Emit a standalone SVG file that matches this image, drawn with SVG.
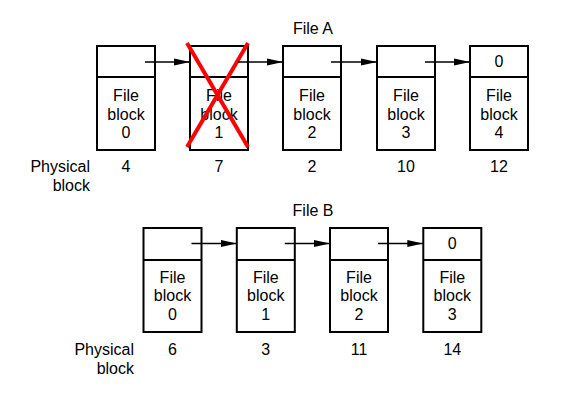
<svg xmlns="http://www.w3.org/2000/svg" width="566" height="402" viewBox="0 0 566 402">
<style>
.box{fill:#fff;stroke:#000;stroke-width:2}
.t{font-family:"Liberation Sans",Arial,sans-serif;font-size:16px;fill:#000;text-anchor:middle}
.r{text-anchor:end}
.c{stroke:#000;stroke-width:1.4;fill:none}
</style>
<defs>
<marker id="ah" markerUnits="userSpaceOnUse" markerWidth="16" markerHeight="8" refX="16" refY="4" orient="auto">
<path d="M0,0.5 L16,4 L0,7.5 Z" fill="#000"/>
</marker>
</defs>
<rect width="566" height="402" fill="#fff"/>
<text class="t" x="313" y="34">File A</text>
<text class="t r" x="90" y="172">Physical</text>
<text class="t r" x="90" y="191">block</text>
<g id="a0"><rect class="box" x="97" y="46" width="58" height="104"/><line class="box" x1="97" y1="77" x2="155" y2="77"/>
<text class="t" x="126" y="101">File</text><text class="t" x="126" y="119.5">block</text><text class="t" x="126" y="138">0</text><text class="t" x="126" y="172">4</text></g>
<g id="a1"><rect class="box" x="190" y="46" width="58" height="104"/><line class="box" x1="190" y1="77" x2="248" y2="77"/>
<text class="t" x="219" y="101">File</text><text class="t" x="219" y="119.5">block</text><text class="t" x="219" y="138">1</text><text class="t" x="219" y="172">7</text></g>
<g id="a2"><rect class="box" x="283" y="46" width="58" height="104"/><line class="box" x1="283" y1="77" x2="341" y2="77"/>
<text class="t" x="312" y="101">File</text><text class="t" x="312" y="119.5">block</text><text class="t" x="312" y="138">2</text><text class="t" x="312" y="172">2</text></g>
<g id="a3"><rect class="box" x="377" y="46" width="58" height="104"/><line class="box" x1="377" y1="77" x2="435" y2="77"/>
<text class="t" x="406" y="101">File</text><text class="t" x="406" y="119.5">block</text><text class="t" x="406" y="138">3</text><text class="t" x="406" y="172">10</text></g>
<g id="a4"><rect class="box" x="470" y="46" width="58" height="104"/><line class="box" x1="470" y1="77" x2="528" y2="77"/>
<text class="t" x="499" y="67">0</text>
<text class="t" x="499" y="101">File</text><text class="t" x="499" y="119.5">block</text><text class="t" x="499" y="138">4</text><text class="t" x="499" y="172">12</text></g>
<g id="cross"><line x1="187" y1="43" x2="248" y2="147" stroke="#f00" stroke-width="4"/><line x1="248" y1="43" x2="187" y2="147" stroke="#f00" stroke-width="4"/></g>

<text class="t" x="313" y="216">File B</text>
<text class="t r" x="134" y="355">Physical</text>
<text class="t r" x="134" y="373.5">block</text>
<g id="b0"><rect class="box" x="143.5" y="228" width="58" height="104"/><line class="box" x1="143.5" y1="260" x2="201.5" y2="260"/>
<text class="t" x="172.5" y="282.5">File</text><text class="t" x="172.5" y="301">block</text><text class="t" x="172.5" y="319.5">0</text><text class="t" x="172.5" y="355">6</text></g>
<g id="b1"><rect class="box" x="236.8" y="228" width="58" height="104"/><line class="box" x1="236.8" y1="260" x2="294.8" y2="260"/>
<text class="t" x="265.8" y="282.5">File</text><text class="t" x="265.8" y="301">block</text><text class="t" x="265.8" y="319.5">1</text><text class="t" x="265.8" y="355">3</text></g>
<g id="b2"><rect class="box" x="330" y="228" width="58" height="104"/><line class="box" x1="330" y1="260" x2="388" y2="260"/>
<text class="t" x="359" y="282.5">File</text><text class="t" x="359" y="301">block</text><text class="t" x="359" y="319.5">2</text><text class="t" x="359" y="355">11</text></g>
<g id="b3"><rect class="box" x="423.3" y="228" width="58" height="104"/><line class="box" x1="423.3" y1="260" x2="481.3" y2="260"/>
<text class="t" x="452.3" y="249">0</text>
<text class="t" x="452.3" y="282.5">File</text><text class="t" x="452.3" y="301">block</text><text class="t" x="452.3" y="319.5">3</text><text class="t" x="452.3" y="355">14</text></g>

<g id="connectors">
<line class="c" x1="145" y1="62" x2="190" y2="62" marker-end="url(#ah)"/>
<line class="c" x1="238" y1="62" x2="283" y2="62" marker-end="url(#ah)"/>
<line class="c" x1="331" y1="62" x2="377" y2="62" marker-end="url(#ah)"/>
<line class="c" x1="425" y1="62" x2="470" y2="62" marker-end="url(#ah)"/>
<line class="c" x1="191.5" y1="243.5" x2="236.8" y2="243.5" marker-end="url(#ah)"/>
<line class="c" x1="284.8" y1="243.5" x2="330" y2="243.5" marker-end="url(#ah)"/>
<line class="c" x1="378" y1="243.5" x2="423.3" y2="243.5" marker-end="url(#ah)"/>
</g>
</svg>
